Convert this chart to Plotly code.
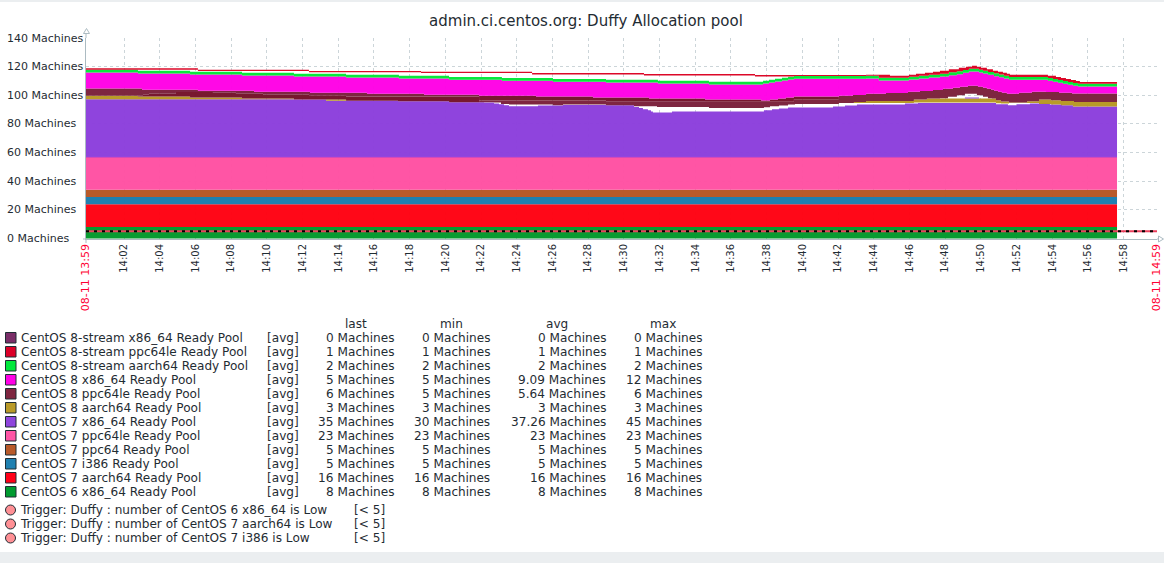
import numpy as np
import pandas as pd
import plotly.graph_objects as go

TITLE = "admin.ci.centos.org: Duffy Allocation pool"
START = pd.Timestamp("2021-08-11 13:59:52")
DATA_END = 57.76   # minutes after START
FULL_END = 60.0

y_ticks = [0, 20, 40, 60, 80, 100, 120, 140]
x_tick_labels = [f"14:{m:02d}" for m in range(2, 60, 2)]

names = ["CentOS 8-stream x86_64 Ready Pool", "CentOS 8-stream ppc64le Ready Pool",
         "CentOS 8-stream aarch64 Ready Pool", "CentOS 8 x86_64 Ready Pool",
         "CentOS 8 ppc64le Ready Pool", "CentOS 8 aarch64 Ready Pool",
         "CentOS 7 x86_64 Ready Pool", "CentOS 7 ppc64le Ready Pool",
         "CentOS 7 ppc64 Ready Pool", "CentOS 7 i386 Ready Pool",
         "CentOS 7 aarch64 Ready Pool", "CentOS 6 x86_64 Ready Pool"]
last_vals = ["0", "1", "2", "5", "6", "3", "35", "23", "5", "5", "16", "8"]
min_vals = ["0", "1", "2", "5", "5", "3", "30", "23", "5", "5", "16", "8"]
avg_vals = ["0", "1", "2", "9.09", "5.64", "3", "37.26", "23", "5", "5", "16", "8"]
max_vals = ["0", "1", "2", "12", "6", "3", "45", "23", "5", "5", "16", "8"]
colors = ["#7a2e68", "#dc0028", "#00e83c", "#ff00e6", "#7e2640", "#b99a28",
          "#8e44dd", "#ff55a5", "#b85a2a", "#1f80b0", "#ff0018", "#009b30"]
dark_maroon = "#78182e"

triggers = ["Trigger: Duffy : number of CentOS 6 x86_64 is Low",
            "Trigger: Duffy : number of CentOS 7 aarch64 is Low",
            "Trigger: Duffy : number of CentOS 7 i386 is Low"]
trigger_level = 5

# constant bands, bottom to top
steady_names = ["CentOS 6 x86_64", "CentOS 7 aarch64", "CentOS 7 i386", "CentOS 7 ppc64", "CentOS 7 ppc64le"]
steady_vals = [8, 16, 5, 5, 23]
green_height = 2

# (minutes after start, top of the band in the stacked picture)
purple_top = [(0,97.2),(11.65,97.0),(13.45,96.2),(17.48,95.8),(20.34,95.1),(22.30,94.9),(22.86,94.2),(23.14,93.7),
    (23.42,93.0),(23.70,92.3),(25.32,92.8),(26.72,93.3),(29.13,93.0),(30.70,91.9),(30.98,91.2),(31.20,90.2),
    (31.48,89.5),(31.65,88.6),(31.76,87.9),(32.83,88.6),(37.98,89.5),(38.43,90.2),(38.82,90.7),(39.33,91.4),
    (41.85,92.1),(42.52,92.8),(43.19,93.5),(45.88,94.2),(46.61,94.7),(50.98,93.7),(51.65,93.0),(52.15,93.7),
    (52.88,94.2),(53.55,94.7),(54.00,93.5),(54.68,93.0),(55.29,92.1)]
bronze_low_late = [(43.02,94.7),(46.38,94.9),(50.98,94.4),(51.26,94.2),(51.71,94.7),(52.72,94.7),(53.39,94.0),
    (54.06,93.5),(54.62,93.0),(55.29,92.1)]
bronze_top_early = [(0,99.7),(2.91,99.1),(5.83,98.4),(8.74,97.7),(11.65,97.0)]
bronze_top_late = [(43.02,95.3),(43.70,96.0),(46.38,97.0),(47.11,97.7),(50.98,96.5),(51.26,95.6),(51.71,94.9),
    (52.72,95.9),(53.39,97.0),(54.06,96.5),(54.62,96.0),(55.35,95.3)]
maroon_low = [(0,99.7),(2.91,99.1),(5.83,98.4),(8.74,97.7),(11.65,97.0),(14.57,96.2),(17.48,95.8),(20.34,95.1),
    (22.86,94.9),(23.25,94.0),(23.70,93.5),(26.16,93.0),(26.72,93.5),(29.13,93.0),(30.70,92.3),(31.99,91.9),
    (34.90,91.2),(37.98,91.6),(38.32,92.3),(38.82,92.8),(39.33,93.5),(39.72,94.0),(42.18,94.7),(43.02,95.3),
    (43.70,96.0),(46.38,97.0),(47.11,97.7),(47.84,98.0),(48.29,99.0),(48.79,100.0),(49.24,101.0),(49.91,100.0),
    (50.25,98.9),(50.53,97.9),(50.75,97.7),(50.98,96.5),(51.26,95.6),(51.71,94.9),(52.72,95.9),(53.39,97.0),
    (54.06,96.5),(54.62,96.0),(55.35,95.3)]
shade_low_early = [(0,99.7),(3.19,100.4),(3.53,101.1),(5.04,102.3),(7.11,101.8),(8.40,101.1),(9.92,100.4),
    (12.49,100.0),(14.57,99.1)]
shade_high_mid = [(22.02,96.3),(29.13,95.8),(34.68,95.4),(39.66,97.3)]
magenta_low = [(0,104.8),(3.14,103.9),(6.27,103.2),(9.41,102.5),(12.55,101.8),(15.74,101.1),(18.94,100.4),
    (22.02,99.7),(25.21,99.1),(28.40,98.4),(31.54,97.7),(34.68,97.0),(37.82,96.3),(38.32,97.0),(38.77,97.7),
    (39.21,98.4),(39.66,99.1),(42.18,99.6),(42.97,100.2),(43.70,101.1),(44.82,101.6),(46.05,102.4),(46.72,103.0),
    (47.45,103.7),(48.01,104.6),(48.57,105.3),(48.96,106.0),(49.41,106.7),(49.97,106.0),(50.25,105.3),(50.47,104.6),
    (50.70,103.9),(50.87,103.2),(51.09,102.5),(51.31,101.8),(51.59,101.1),(52.27,101.8),(52.99,102.5),(53.78,102.3),
    (54.51,101.8),(55.24,101.3)]
green_top = [(0,117.9),(2.91,117.2),(5.83,116.5),(8.74,115.8),(11.65,115.1),(14.57,114.4),(17.53,113.7),(20.34,112.8),
    (23.30,112.1),(26.16,111.4),(29.13,110.9),(32.04,110.2),(34.90,109.5),(37.93,110.2),(38.26,110.9),(38.60,111.6),
    (38.99,112.3),(39.33,113.0),(39.66,113.5),(43.70,113.7),(44.42,112.3),(46.10,113.0),(46.66,113.7),(47.22,114.4),
    (47.84,115.1),(48.34,116.0),(48.79,116.7),(49.13,117.7),(49.46,118.6),(50.03,117.9),(50.25,117.2),(50.53,116.3),
    (50.87,115.3),(51.15,114.6),(51.43,113.7),(51.71,112.8),(53.89,112.1),(54.17,111.4),(54.45,110.7),(54.73,110.0),
    (55.01,109.3),(55.29,108.6),(55.57,108.1)]
red_low_early = [(0,117.9),(6.27,116.9),(12.49,116.0),(18.77,115.5),(24.99,114.6),(31.26,113.9),(37.48,113.2)]
red_top = [(0,118.8),(6.27,117.9),(12.49,117.0),(18.77,116.5),(24.99,115.6),(31.26,114.9),(37.48,114.2),(43.70,114.4),
    (45.04,113.7),(46.10,114.4),(46.50,115.1),(47.00,115.8),(47.45,116.5),(47.84,117.2),(48.34,118.1),(48.90,119.2),
    (49.30,120.0),(49.63,120.7),(49.91,120.0),(50.14,119.2),(50.47,118.1),(50.81,117.2),(51.09,116.5),(51.37,115.8),
    (51.59,115.1),(51.76,114.4),(53.89,113.7),(54.34,112.8),(54.62,112.1),(54.90,111.4),(55.18,110.7),(55.46,110.0),
    (55.68,109.3)]
purple_peak = [(49.24,98.1),(50.03,98.1)]


def value_at(series, t):
    v = series[0][1]
    for a, b in series:
        if a <= t:
            v = b
    return v


def part(series, a, b):
    """The series between minutes a and b, starting with its value at a."""
    return [(a, value_at(series, a))] + [p for p in series if a < p[0] < b]


bronze_low = part(purple_top, 0, 43.02) + bronze_low_late
bronze_top = bronze_top_early + part(purple_top, 14.57, 43.02) + bronze_top_late
shade_low = shade_low_early + part(maroon_low, 22.02, 99)
shade_high = part(magenta_low, 0, 22.02) + shade_high_mid + part(magenta_low, 42.18, 99)
magenta_top = [(t, v - green_height) for t, v in green_top]
red_low = red_low_early + part(green_top, 39.66, 99)


def when(minutes):
    return START + pd.to_timedelta(np.asarray(minutes, dtype=float), unit="m")


def fill_colour(hex_colour, alpha=0.97):
    c = [int(hex_colour[i:i + 2], 16) for i in (1, 3, 5)]
    c = [max(0, min(255, round((x - 255 * (1 - alpha)) / alpha))) for x in c]
    return f"rgba({c[0]},{c[1]},{c[2]},{alpha})"


fig = go.Figure()


def add_layer(series, colour=None, name="", first=False, edge=None):
    pts = list(series) + [(DATA_END, series[-1][1])]
    fig.add_trace(go.Scatter(
        x=when([p[0] for p in pts]), y=[p[1] for p in pts], mode="lines", name=name,
        line=dict(shape="hv", width=1 if edge else 0, color=edge or "rgba(0,0,0,0)"),
        fill=("tozeroy" if first else "tonexty") if colour else "none",
        fillcolor=fill_colour(colour) if colour else None, hoverinfo="skip", showlegend=False))


steady_colours = [colors[11], colors[10], colors[9], colors[8], colors[7]]
total = 0
for i, (n, v, c) in enumerate(zip(steady_names, steady_vals, steady_colours)):
    total += v
    add_layer([(0, total)], c, n, first=i == 0, edge="#8a35dc" if i == 4 else None)
add_layer(purple_top, colors[6], "CentOS 7 x86_64")
add_layer(bronze_low)
add_layer(bronze_top, colors[5], "CentOS 8 aarch64")
add_layer(maroon_low)
add_layer(shade_low, dark_maroon, "CentOS 8 ppc64le")
add_layer(shade_high, colors[4], "CentOS 8 ppc64le")
add_layer(magenta_low, dark_maroon, "CentOS 8 ppc64le")
add_layer(magenta_top, colors[3], "CentOS 8 x86_64")
add_layer(green_top, colors[2], "CentOS 8-stream aarch64")
add_layer(red_low)
add_layer(red_top, colors[1], "CentOS 8-stream ppc64le")

fig.add_trace(go.Scatter(x=when([p[0] for p in purple_peak]), y=[p[1] for p in purple_peak], mode="lines",
                         line=dict(color=colors[6], width=1), hoverinfo="skip", showlegend=False))
fig.add_trace(go.Scatter(x=when([0, FULL_END]), y=[trigger_level] * 2, mode="lines",
                         line=dict(color="#ea3f5c", width=2), hoverinfo="skip", showlegend=False))
fig.add_trace(go.Scatter(x=when([0, FULL_END]), y=[trigger_level] * 2, mode="lines",
                         line=dict(color="#000000", width=2, dash="3px,5px"), hoverinfo="skip", showlegend=False))

# page geometry helpers (paper coordinates from page pixels)
L, R, T, B = 86, 1157, 38, 239


def px(x):
    return (x - L) / (R - L)


def py(y):
    return (B - y) / (B - T)


TEXT = "#1f2c33"
AXIS = "#acbbc2"
annotations = []


def label(x, y, text, anchor="left", size=12.1, colour=TEXT):
    annotations.append(dict(x=px(x), y=py(y), xref="paper", yref="paper", text=text, showarrow=False,
                            xanchor=anchor, yanchor="middle", font=dict(size=size, color=colour),
                            borderpad=0, borderwidth=0))


for v in y_ticks:
    annotations.append(dict(x=px(5), y=v, xref="paper", yref="y", text=f"{v} Machines", showarrow=False,
                            xanchor="left", yanchor="middle", font=dict(size=11, color=TEXT)))

for x, head in [(355.5, "last"), (451, "min"), (557, "avg"), (662.5, "max")]:
    label(x, 324, head, anchor="center")

shapes = [
    dict(type="rect", xref="paper", yref="paper", x0=px(0), x1=px(1164), y0=py(0), y1=py(2),
         fillcolor="#ebeef0", line_width=0),
    dict(type="rect", xref="paper", yref="paper", x0=px(0), x1=px(1164), y0=py(552), y1=py(563),
         fillcolor="#ebeef0", line_width=0),
    dict(type="line", xref="paper", yref="paper", x0=px(86), x1=px(86), y0=py(38), y1=py(31),
         line=dict(color=AXIS, width=1)),
    dict(type="line", xref="paper", yref="paper", x0=px(1157), x1=px(1159), y0=py(239), y1=py(239),
         line=dict(color=AXIS, width=1)),
    dict(type="line", xref="paper", yref="paper", x0=px(83), x1=px(86), y0=py(239), y1=py(239),
         line=dict(color=AXIS, width=1)),
    dict(type="line", xref="paper", yref="paper", x0=px(86), x1=px(86), y0=py(239), y1=py(243),
         line=dict(color=AXIS, width=1)),
    dict(type="path", xref="paper", yref="paper", fillcolor="#ffffff", line=dict(color=AXIS, width=1),
         path=f"M {px(83.5)} {py(33.5)} L {px(86.5)} {py(28.5)} L {px(89.5)} {py(33.5)} Z"),
    dict(type="path", xref="paper", yref="paper", fillcolor="#ffffff", line=dict(color=AXIS, width=1),
         path=f"M {px(1158.5)} {py(236)} L {px(1163.5)} {py(239)} L {px(1158.5)} {py(242)} Z"),
]

for i, n in enumerate(names):
    y = 338 + 14 * i
    shapes.append(dict(type="rect", xref="paper", yref="paper", x0=px(5.5), x1=px(16), y0=py(y + 5), y1=py(y - 5.5),
                       fillcolor=colors[i], line=dict(color=TEXT, width=1)))
    label(21, y, n)
    label(267, y, "[avg]")
    for right, vals in [(393.5, last_vals), (490, min_vals), (606, avg_vals), (702, max_vals)]:
        label(right, y, f"{vals[i]} Machines", anchor="right")

for i, n in enumerate(triggers):
    y = 510 + 14 * i
    shapes.append(dict(type="circle", xref="paper", yref="paper", x0=px(5.5), x1=px(15.5), y0=py(y + 5), y1=py(y - 5),
                       fillcolor="#ff9095", line=dict(color=TEXT, width=1)))
    label(20, y, n)
    label(354, y, f"[&lt; {trigger_level}]")

edge_label = '<span style="color:#ff0033;font-size:11px">08-11 {}</span>'
tickvals = [when(0)] + [pd.Timestamp("2021-08-11 " + s + ":00") for s in x_tick_labels] + [when(FULL_END)]
ticktext = [edge_label.format("13:59")] + x_tick_labels + [edge_label.format("14:59")]

fig.update_layout(
    width=1164, height=563, margin=dict(l=L, r=1164 - R, t=T, b=563 - B, autoexpand=False),
    paper_bgcolor="#ffffff", plot_bgcolor="#ffffff",
    font=dict(family="DejaVu Sans", color=TEXT, size=12),
    title=dict(text=TITLE, x=586 / 1164, xref="container", xanchor="center", y=1 - 21 / 563, yref="container",
               yanchor="middle", font=dict(size=15, color=TEXT)),
    showlegend=False, annotations=annotations, shapes=shapes,
    xaxis=dict(type="date", range=[when(0), when(FULL_END)], tickmode="array", tickvals=tickvals, ticktext=ticktext,
               tickangle=-90, tickfont=dict(size=10, color=TEXT), showgrid=True, gridcolor="#ccd5d9", griddash="3px,3px",
               gridwidth=1, showline=True, linecolor=AXIS, linewidth=1, ticks="", zeroline=False),
    yaxis=dict(range=[-0.35, 140], tickmode="array", tickvals=y_ticks, showticklabels=False, showgrid=True,
               gridcolor="#ccd5d9", griddash="3px,3px", gridwidth=1, showline=True, linecolor=AXIS, linewidth=1,
               ticks="", zeroline=False),
)

fig.write_html("out.html", config={"displayModeBar": False},
               post_script="document.body.style.margin='0';")
